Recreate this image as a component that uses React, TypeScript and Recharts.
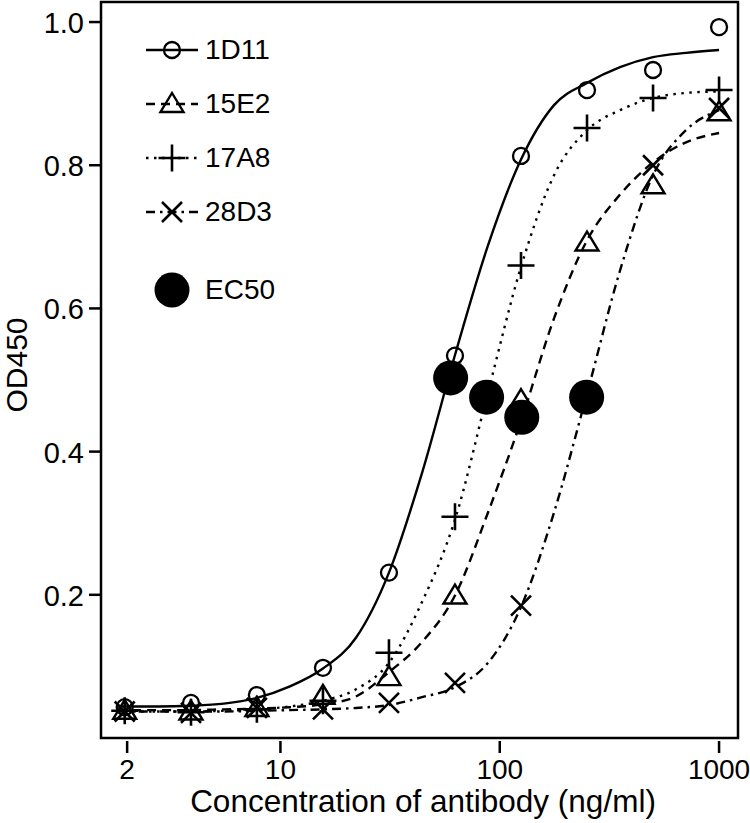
import { ComposedChart, Line, Scatter, XAxis, YAxis, ReferenceArea, Legend } from 'recharts'

const FONT = '"Liberation Sans", Arial, Helvetica, sans-serif'

// concentrations (ng/ml) of the dilution series
const doses = [1.95, 3.91, 7.81, 15.63, 31.25, 62.5, 125, 250, 500, 1000]

// measured OD450
const od1D11 = [0.043, 0.049, 0.06, 0.098, 0.231, 0.534, 0.813, 0.905, 0.933, 0.993]
const od15E2 = [0.038, 0.037, 0.042, 0.059, 0.085, 0.199, 0.472, 0.692, 0.772, 0.874]
const od17A8 = [0.038, 0.036, 0.04, 0.052, 0.119, 0.309, 0.66, 0.852, 0.894, 0.905]
const od28D3 = [0.037, 0.035, 0.042, 0.04, 0.049, 0.077, 0.185, 0.475, 0.8, 0.88]

// fitted curves
const fitX = [1.8, 2.76, 3.91, 5.52, 7.81, 11.05, 15.63, 22.1, 31.25, 44.2, 62.5, 88.4, 125, 176.8, 250, 353.6, 500, 707, 1000]
const fit1D11 = [0.044, 0.044, 0.045, 0.048, 0.056, 0.072, 0.097, 0.14, 0.231, 0.37, 0.535, 0.688, 0.808, 0.884, 0.915, 0.937, 0.951, 0.957, 0.961]
const fit15E2 = [0.039, 0.039, 0.039, 0.04, 0.041, 0.043, 0.047, 0.058, 0.092, 0.134, 0.199, 0.315, 0.443, 0.586, 0.695, 0.759, 0.804, 0.832, 0.845]
const fit17A8 = [0.037, 0.037, 0.037, 0.038, 0.04, 0.044, 0.052, 0.068, 0.105, 0.19, 0.305, 0.483, 0.658, 0.786, 0.849, 0.877, 0.894, 0.901, 0.903]
const fit28D3 = [0.037, 0.037, 0.037, 0.037, 0.038, 0.039, 0.04, 0.042, 0.046, 0.057, 0.071, 0.105, 0.183, 0.315, 0.481, 0.653, 0.786, 0.849, 0.877]

// EC50 points
const ec50X = [59.7, 87.1, 126, 249]
const ec50Y = [0.503, 0.476, 0.448, 0.476]

const xTicks = [2, 10, 100, 1000]
const yTicks = [0.2, 0.4, 0.6, 0.8, 1.0]
const X_DOMAIN = [1.52, 1220]
const Y_DOMAIN = [0, 1.028]

const rows = (xs: number[], ys: number[]) => xs.map((x, i) => ({ x, y: ys[i] }))

const DASH = {
  '1D11': undefined,
  '15E2': '9 6',
  '17A8': '2.5 5.5',
  '28D3': '9 5 2.5 5'
} as Record<string, string | undefined>

function markerPath(kind: string, cx: number, cy: number) {
  switch (kind) {
    case 'triangle':
      return <path d={`M${cx},${cy - 11}L${cx + 11.5},${cy + 8}L${cx - 11.5},${cy + 8}Z`} fill="none" stroke="#000" strokeWidth={2.4} />
    case 'plus':
      return <path d={`M${cx - 13.5},${cy}H${cx + 13.5}M${cx},${cy - 13.5}V${cy + 13.5}`} fill="none" stroke="#000" strokeWidth={2.6} />
    case 'cross':
      return <path d={`M${cx - 10},${cy - 10}L${cx + 10},${cy + 10}M${cx - 10},${cy + 10}L${cx + 10},${cy - 10}`} fill="none" stroke="#000" strokeWidth={2.6} />
    case 'dot':
      return <circle cx={cx} cy={cy} r={17.5} fill="#000" />
    default:
      return <circle cx={cx} cy={cy} r={8} fill="none" stroke="#000" strokeWidth={2.3} />
  }
}

const shapeOf = (kind: string) => (p: any) => markerPath(kind, p.cx, p.cy)

const series = [
  { name: '1D11', kind: 'circle', obs: od1D11, fit: fit1D11 },
  { name: '15E2', kind: 'triangle', obs: od15E2, fit: fit15E2 },
  { name: '17A8', kind: 'plus', obs: od17A8, fit: fit17A8 },
  { name: '28D3', kind: 'cross', obs: od28D3, fit: fit28D3 }
]

const XTick = ({ x, y, payload }: any) => (
  <g>
    <line x1={x} x2={x} y1={y + 3} y2={y + 15} stroke="#000" strokeWidth={2.5} />
    <text x={x} y={y + 41} textAnchor="middle" fontSize={28} fontFamily={FONT} fill="#000">
      {payload.value}
    </text>
  </g>
)

const YTick = ({ x, y, payload }: any) => (
  <g>
    <line x1={x - 12} x2={x} y1={y} y2={y} stroke="#000" strokeWidth={2.5} />
    <text x={x - 17} y={y + 11} textAnchor="end" fontSize={29} fontFamily={FONT} fill="#000">
      {Number(payload.value).toFixed(1)}
    </text>
  </g>
)

const legendRows = [
  { label: '1D11', kind: 'circle', dash: DASH['1D11'], center: 50, line: true },
  { label: '15E2', kind: 'triangle', dash: DASH['15E2'], center: 104, line: true },
  { label: '17A8', kind: 'plus', dash: DASH['17A8'], center: 158, line: true },
  { label: '28D3', kind: 'cross', dash: DASH['28D3'], center: 212, line: true },
  { label: 'EC50', kind: 'dot', dash: undefined, center: 290, line: false }
]

function LegendBox() {
  return (
    <div style={{ position: 'relative', width: 200, height: 320, fontFamily: FONT }}>
      {legendRows.map((r) => (
        <div key={r.label} style={{ position: 'absolute', left: 2, top: r.center - 20, height: 40, display: 'flex', alignItems: 'center' }}>
          <svg width={60} height={40} style={{ overflow: 'visible' }}>
            {r.line && (
              <line x1={4} x2={56} y1={20} y2={20} stroke="#000" strokeWidth={2.4} strokeDasharray={r.dash} />
            )}
            {markerPath(r.kind, 30, 20)}
          </svg>
          <span style={{ fontSize: 28, lineHeight: '40px', marginLeft: 3, color: '#000' }}>{r.label}</span>
        </div>
      ))}
    </div>
  )
}

export default function App() {
  return (
    <div style={{ position: 'absolute', left: 0, top: 0, background: '#fff' }}>
      <ComposedChart width={750} height={823} margin={{ top: 2, right: 12, bottom: 0, left: 0 }}>
        <XAxis
          dataKey="x"
          type="number"
          scale="log"
          domain={X_DOMAIN}
          ticks={xTicks}
          allowDataOverflow
          axisLine={false}
          tickLine={false}
          tickSize={0}
          tickMargin={0}
          height={85}
          tick={<XTick />}
          label={() => (
            <text x={423} y={812} textAnchor="middle" fontSize={31.5} fontFamily={FONT} fill="#000">
              Concentration of antibody (ng/ml)
            </text>
          )}
        />
        <YAxis
          dataKey="y"
          type="number"
          domain={Y_DOMAIN}
          ticks={yTicks}
          allowDataOverflow
          axisLine={false}
          tickLine={false}
          tickSize={0}
          tickMargin={0}
          width={101}
          tick={<YTick />}
          label={() => (
            <text x={27} y={365} textAnchor="middle" fontSize={30} fontFamily={FONT} fill="#000" transform="rotate(-90, 27, 365)">
              OD450
            </text>
          )}
        />
        <ReferenceArea
          x1={X_DOMAIN[0]}
          x2={X_DOMAIN[1]}
          y1={Y_DOMAIN[0]}
          y2={Y_DOMAIN[1]}
          fill="none"
          stroke="#000"
          strokeWidth={2.5}
          ifOverflow="visible"
        />
        {series.map((s) => (
          <Line
            key={'fit' + s.name}
            data={rows(fitX, s.fit)}
            dataKey="y"
            type="monotone"
            stroke="#000"
            strokeWidth={2.4}
            strokeDasharray={DASH[s.name]}
            dot={false}
            activeDot={false}
            isAnimationActive={false}
            legendType="none"
          />
        ))}
        {series.map((s) => (
          <Scatter
            key={'obs' + s.name}
            name={s.name}
            data={rows(doses, s.obs)}
            dataKey="y"
            shape={shapeOf(s.kind)}
            isAnimationActive={false}
          />
        ))}
        <Scatter name="EC50" data={rows(ec50X, ec50Y)} dataKey="y" shape={shapeOf('dot')} isAnimationActive={false} />
        <Legend
          layout="vertical"
          align="center"
          verticalAlign="middle"
          wrapperStyle={{ left: 140, top: 0, width: 200, height: 320 }}
          content={() => <LegendBox />}
        />
      </ComposedChart>
    </div>
  )
}
